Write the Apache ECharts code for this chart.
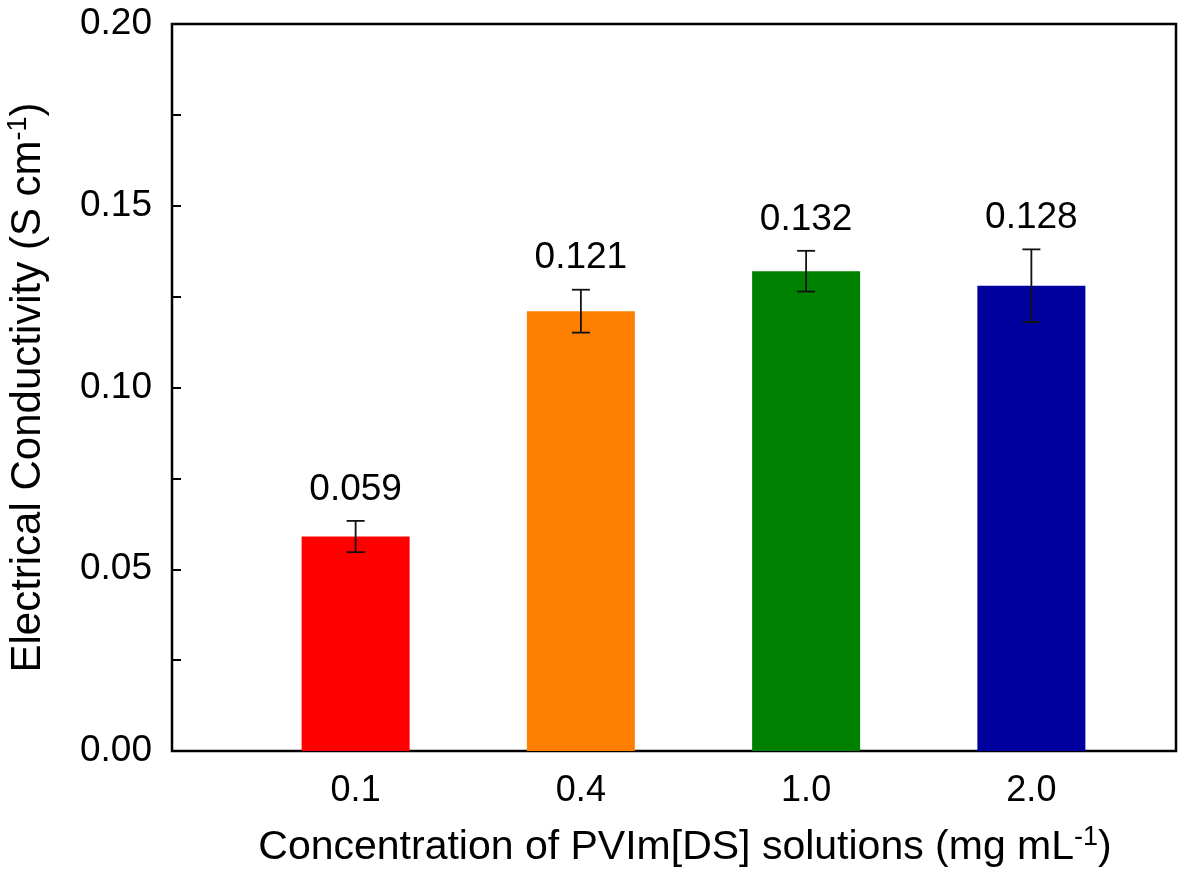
<!DOCTYPE html>
<html>
<head>
  <meta charset="UTF-8">
  <title>conductivity</title>
  <style>
    html, body { margin: 0; padding: 0; background: #fff; }
    #main { width: 1190px; height: 873px; }
  </style>
</head>
<body>
  <div id="main"></div>
  <script src="https://cdn.jsdelivr.net/npm/echarts@6/dist/echarts.min.js"></script>
  <script>
    var categories = ['0.1', '0.4', '1.0', '2.0'];
    var values = [0.059, 0.121, 0.132, 0.128];
    var errors = [0.0043, 0.0059, 0.0056, 0.0100];
    var barColors = ['#ff0000', '#ff8000', '#008000', '#00009f'];

    var font = '"Liberation Sans", Arial, sans-serif';
    var chart = echarts.init(document.getElementById('main'));

    var supStyle = { fontSize: 27, color: '#000', fontFamily: font, padding: [0, 0, 20, 0] };

    var option = {
      animation: false,
      textStyle: { fontFamily: font },
      grid: [
        { left: 172, right: 14, top: 24, bottom: 122, show: true, borderColor: '#000', borderWidth: 2.5, outerBoundsMode: 'none', containLabel: false },
        { left: 243, right: 46, top: 24, bottom: 122, outerBoundsMode: 'none', containLabel: false }
      ],
      xAxis: [
        {
          gridIndex: 0, type: 'value', min: 0, max: 1,
          axisLine: { show: false }, axisTick: { show: false }, axisLabel: { show: false }, splitLine: { show: false },
          name: 'Concentration of PVIm[DS] solutions (mg mL{sup|-1})',
          nameLocation: 'middle', nameGap: 73,
          nameTextStyle: {
            fontSize: 41, color: '#000', fontFamily: font, padding: [0, 0, 0, 22],
            rich: { sup: supStyle }
          }
        },
        {
          gridIndex: 1, type: 'category', data: categories,
          axisLine: { show: false }, axisTick: { show: false }, splitLine: { show: false },
          axisLabel: { fontSize: 36, color: '#000', margin: 22, fontFamily: font }
        }
      ],
      yAxis: [
        {
          gridIndex: 0, type: 'value', min: 0, max: 0.2, interval: 0.05,
          axisLine: { show: false },
          axisTick: { show: true, inside: true, length: 9, lineStyle: { color: '#000', width: 2 } },
          minorTick: { show: true, splitNumber: 2, length: 9, lineStyle: { color: '#000', width: 2 } },
          splitLine: { show: false },
          axisLabel: {
            fontSize: 37, color: '#000', margin: 20, fontFamily: font,
            formatter: function (v) { return v.toFixed(2); }
          },
          name: 'Electrical Conductivity (S cm{sup|-1})',
          nameLocation: 'middle', nameGap: 120,
          nameTextStyle: {
            fontSize: 42, color: '#000', fontFamily: font,
            rich: { sup: supStyle }
          }
        },
        { gridIndex: 1, type: 'value', min: 0, max: 0.2, show: false }
      ],
      series: [
        {
          type: 'bar', xAxisIndex: 1, yAxisIndex: 1,
          barWidth: 108,
          data: values.map(function (v, i) {
            return { value: v, itemStyle: { color: barColors[i] } };
          })
        },
        {
          type: 'custom', xAxisIndex: 1, yAxisIndex: 1, z: 10,
          data: values.map(function (v, i) { return [i, v - errors[i], v + errors[i], v]; }),
          renderItem: function (params, api) {
            var lo = api.coord([api.value(0), api.value(1)]);
            var hi = api.coord([api.value(0), api.value(2)]);
            var x = lo[0], w = 9;
            var st = { stroke: '#111', lineWidth: 1.8 };
            return {
              type: 'group',
              children: [
                { type: 'line', shape: { x1: x, y1: lo[1], x2: x, y2: hi[1] }, style: st },
                { type: 'line', shape: { x1: x - w, y1: lo[1], x2: x + w, y2: lo[1] }, style: st },
                { type: 'line', shape: { x1: x - w, y1: hi[1], x2: x + w, y2: hi[1] }, style: st },
                {
                  type: 'text',
                  style: {
                    x: x, y: hi[1] - 13, text: api.value(3).toFixed(3),
                    textAlign: 'center', textVerticalAlign: 'bottom',
                    fontSize: 37, fill: '#000', fontFamily: font
                  }
                }
              ]
            };
          }
        }
      ]
    };
    chart.setOption(option);
  </script>
</body>
</html>
